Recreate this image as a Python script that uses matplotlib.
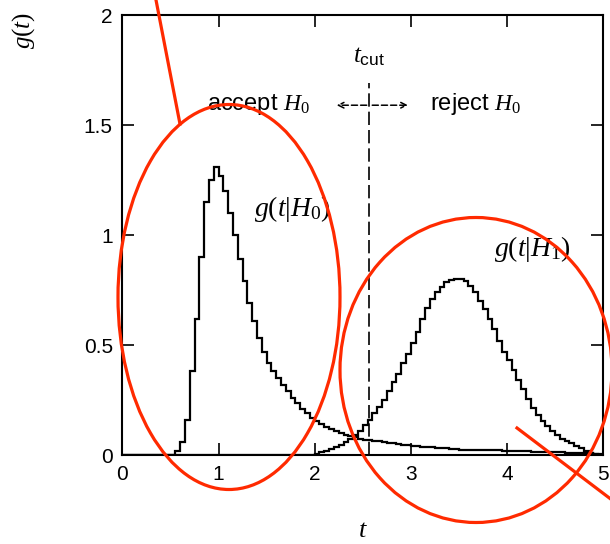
import numpy as np
import matplotlib
matplotlib.use("Agg")
import matplotlib.pyplot as plt
from matplotlib.patches import Ellipse

plt.rcParams['font.family'] = ['Liberation Sans', 'DejaVu Sans']
plt.rcParams['mathtext.fontset'] = 'custom'
plt.rcParams['mathtext.rm'] = 'Liberation Serif'
plt.rcParams['mathtext.it'] = 'Liberation Serif:italic'
plt.rcParams['mathtext.sf'] = 'Liberation Sans'

# histogram bins in t, width 0.05 from 0 to 5
edges = np.round(np.arange(0, 5.0001, 0.05), 2)

# g(t|H0): peaked near t = 1 with a long tail
g_h0 = [
    0, 0, 0, 0, 0, 0, 0, 0, 0, 0,
    0, 0.02, 0.06, 0.16, 0.38, 0.62, 0.90, 1.15, 1.25, 1.31,
    1.27, 1.20, 1.10, 1.00, 0.89, 0.79, 0.69, 0.61, 0.53, 0.47,
    0.42, 0.38, 0.35, 0.32, 0.29, 0.26, 0.235, 0.21, 0.19, 0.17,
    0.155, 0.14, 0.128, 0.117, 0.107, 0.10, 0.093, 0.087, 0.08, 0.074,
    0.069, 0.067, 0.065, 0.062, 0.058, 0.055, 0.053, 0.05, 0.047, 0.044,
    0.04, 0.039, 0.038, 0.037, 0.035, 0.034, 0.032, 0.03, 0.028, 0.026,
    0.025, 0.024, 0.024, 0.023, 0.023, 0.022, 0.022, 0.021, 0.021, 0.02,
    0.02, 0.019, 0.019, 0.018, 0.017, 0.015, 0.014, 0.014, 0.013, 0.013,
    0.012, 0.012, 0.011, 0.011, 0.01, 0.01, 0.008, 0.007, 0.006, 0.005,
]

# g(t|H1): bump around t = 3.5
g_h1 = [
    0, 0, 0, 0, 0, 0, 0, 0, 0, 0,
    0, 0, 0, 0, 0, 0, 0, 0, 0, 0,
    0, 0, 0, 0, 0, 0, 0, 0, 0, 0,
    0, 0, 0, 0, 0, 0, 0, 0, 0, 0,
    0.005, 0.012, 0.02, 0.028, 0.035, 0.045, 0.058, 0.072, 0.09, 0.11,
    0.135, 0.16, 0.19, 0.22, 0.25, 0.29, 0.33, 0.37, 0.42, 0.46,
    0.51, 0.56, 0.62, 0.67, 0.71, 0.74, 0.765, 0.785, 0.795, 0.80,
    0.80, 0.79, 0.77, 0.74, 0.70, 0.665, 0.62, 0.575, 0.52, 0.47,
    0.43, 0.385, 0.34, 0.30, 0.255, 0.215, 0.18, 0.155, 0.13, 0.11,
    0.09, 0.075, 0.063, 0.053, 0.043, 0.033, 0.02, 0.01, 0.005, 0,
]

t_cut = 2.57
x_ticks = [0, 1, 2, 3, 4, 5]
y_ticks = [0, 0.5, 1, 1.5, 2]
y_ticklabels = ['0', '0.5', '1', '1.5', '2']

fig = plt.figure(figsize=(6.1, 5.44), dpi=100)
ax = fig.add_axes([0.2008, 0.1636, 0.7877, 0.8088])

ax.stairs(g_h0, edges, color='black', linewidth=1.6)
ax.stairs(g_h1, edges, color='black', linewidth=1.6)

# cut line
ax.plot([t_cut, t_cut], [0, 1.69], color='black', linewidth=1.2,
        linestyle=(0, (8, 3)))
ax.text(t_cut, 1.76, r'$t_{\mathsf{cut}}$', ha='center', va='bottom',
        fontsize=18)
ax.annotate('', xy=(2.2, 1.59), xytext=(t_cut, 1.59),
            arrowprops=dict(arrowstyle='->', color='black', lw=1.1,
                            linestyle=(0, (4, 2))))
ax.annotate('', xy=(3.0, 1.59), xytext=(t_cut, 1.59),
            arrowprops=dict(arrowstyle='->', color='black', lw=1.1,
                            linestyle=(0, (4, 2))))
ax.text(1.95, 1.595, r'accept $H_0$', ha='right', va='center', fontsize=17)
ax.text(3.2, 1.595, r'reject $H_0$', ha='left', va='center', fontsize=17)

ax.text(1.77, 1.12, r'$g(t|H_0)$', ha='center', va='center', fontsize=20)
ax.text(4.27, 0.935, r'$g(t|H_1)$', ha='center', va='center', fontsize=20)

ax.set_xlim(0, 5)
ax.set_ylim(0, 2)
ax.set_xticks(x_ticks)
ax.set_yticks(y_ticks)
ax.set_yticklabels(y_ticklabels)
ax.tick_params(direction='in', length=8.5, width=1.2, top=True, right=True,
               labelsize=15, pad=7)
for s in ax.spines.values():
    s.set_linewidth(1.5)

ax.set_xlabel(r'$t$', fontsize=19, labelpad=25)
ax.set_ylabel(r'$g(t)$', fontsize=18, loc='top')
ax.yaxis.set_label_coords(-0.178, 1.006)

# red marks drawn over the whole figure in pixel units
over = fig.add_axes([0, 0, 1, 1], zorder=10)
over.set_xlim(0, 610)
over.set_ylim(544, 0)
over.axis('off')
over.patch.set_alpha(0)
red = '#ff2a00'
over.add_patch(Ellipse((229, 297), 222, 385, fill=False, edgecolor=red,
                       linewidth=2.3))
over.add_patch(Ellipse((476, 370), 272, 305, fill=False, edgecolor=red,
                       linewidth=2.3))
over.plot([156, 180], [0, 124], color=red, linewidth=2.3)
over.plot([517, 612], [428, 500], color=red, linewidth=2.3)

fig.savefig('out.png', dpi=100)
